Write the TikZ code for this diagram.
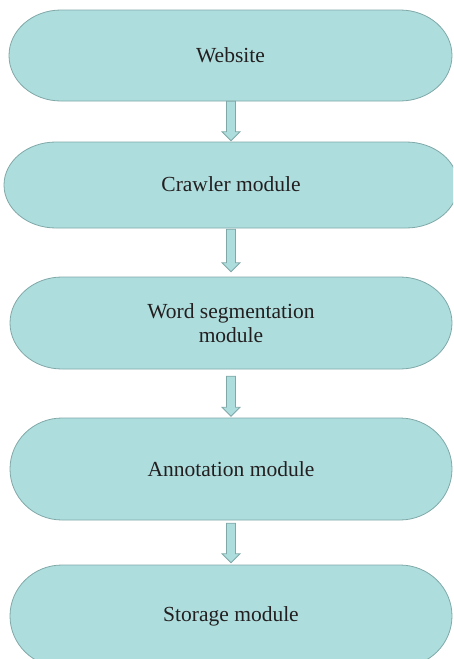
\documentclass[tikz,border=0pt]{standalone}
\usepackage{fontspec}
\setmainfont{Liberation Serif}
\usetikzlibrary{calc,backgrounds}
\definecolor{boxfill}{RGB}{174,221,221}
\definecolor{boxline}{RGB}{128,168,168}
\definecolor{txt}{RGB}{35,31,32}
\tikzset{
  x=1pt,y=1pt,
  modbox/.style={draw=none,align=center,text=txt,font=\fontsize{21.5}{24}\selectfont,inner sep=0pt},
  shapeln/.style={fill=boxfill,draw=boxline,line width=0.8pt},
  fatarrow/.style={fill=boxfill,draw=boxline,line width=0.8pt,line join=miter},
}
% #1 left x, #2 right x, #3 top y, #4 bottom y, #5 x radius
\newcommand{\mystadium}[5]{%
  \path[shapeln] (#1+#5,#3) -- (#2-#5,#3)
    arc[start angle=90,end angle=-90,x radius=#5,y radius={(#3-(#4))/2}]
    -- (#1+#5,#4)
    arc[start angle=270,end angle=90,x radius=#5,y radius={(#3-(#4))/2}] -- cycle;}
% #1 from node, #2 to node, #3 gap at top, #4 gap at bottom
\newcommand{\myfatarrow}[4]{%
  \path[fatarrow] let \p1=(#1.south), \p2=(#2.north) in
    (231-4.5,\y1-#3) -- (231+4.5,\y1-#3) -- (231+4.5,\y2+#4+9) -- (231+9,\y2+#4+9)
    -- (231,\y2+#4) -- (231-9,\y2+#4+9) -- (231-4.5,\y2+#4+9) -- cycle;}
\begin{document}
\begin{tikzpicture}
\useasboundingbox (0,0) rectangle (453,-659);
\clip (0,0) rectangle (453,-659);
\mystadium{9}{452}{-10}{-101}{52}
\mystadium{4}{458}{-142}{-228}{52}
\mystadium{10}{452}{-277}{-369}{52}
\mystadium{10}{452}{-418}{-520}{52}
\mystadium{10}{452}{-565}{-667}{52}
\node[modbox,minimum width=443,minimum height=91] (web) at (230.5,-55.5) {Website};
\node[modbox,minimum width=454,minimum height=86] (crawl) at (231,-184) {Crawler module};
\node[modbox,minimum width=442,minimum height=92] (seg) at (231,-323) {Word segmentation\\ module};
\node[modbox,minimum width=442,minimum height=102] (ann) at (231,-469) {Annotation module};
\node[modbox,minimum width=442,minimum height=102] (sto) at (231,-616) {Storage module};
\myfatarrow{web}{crawl}{0}{0}
\myfatarrow{crawl}{seg}{2}{5}
\myfatarrow{seg}{ann}{7}{1.5}
\myfatarrow{ann}{sto}{3}{2}
\end{tikzpicture}
\end{document}
